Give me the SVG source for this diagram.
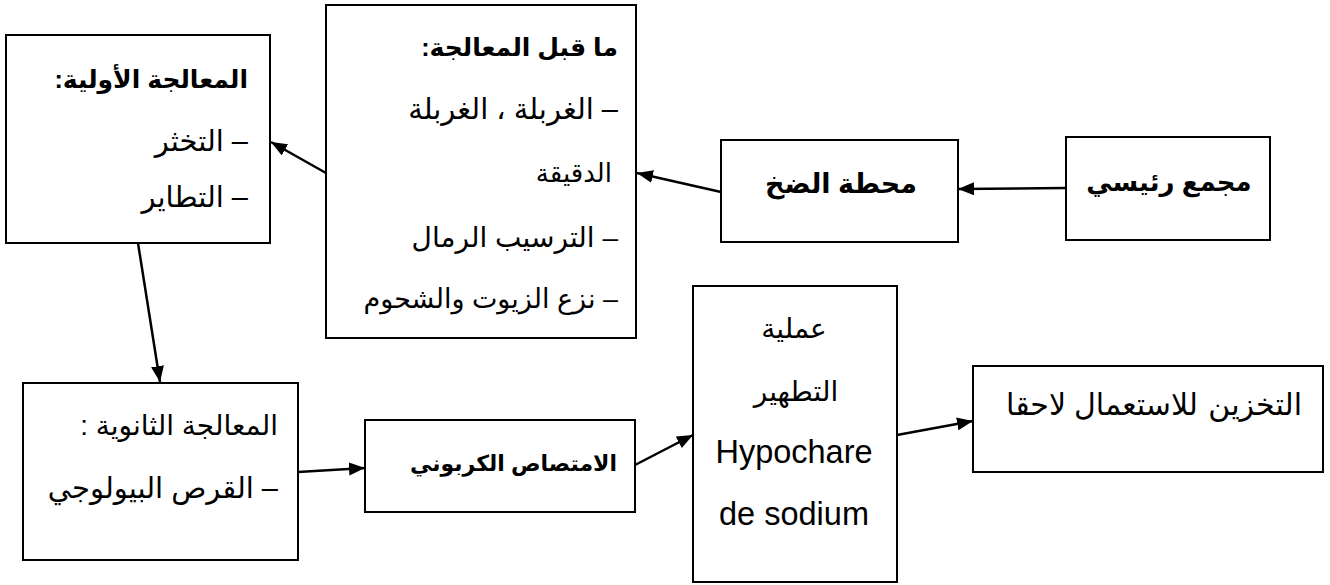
<svg xmlns="http://www.w3.org/2000/svg" width="1330" height="585" viewBox="0 0 1330 585">
<style>
.box{fill:#fff;stroke:#000;stroke-width:2}
.t{font-family:"Liberation Sans","DejaVu Sans",sans-serif;font-size:28px;fill:#000}
.b{font-weight:bold}
.r{direction:rtl;text-anchor:start}
.c{text-anchor:middle}
.con line{stroke:#000;stroke-width:2.5;marker-end:url(#ah)}
</style>
<defs>
<marker id="ah" markerUnits="userSpaceOnUse" markerWidth="18" markerHeight="14" refX="16" refY="6.5" orient="auto">
<path d="M0,0 L16,6.5 L0,13 z" fill="#000"/>
</marker>
</defs>
<rect width="1330" height="585" fill="#fff"/>
<g id="n-primary">
<rect class="box" x="6" y="35" width="264" height="208"/>
<text class="t b r" x="248" y="88" direction="rtl" style="font-size:25px">المعالجة الأولية:</text>
<text class="t r" x="248" y="151" direction="rtl" style="font-size:29px">– التخثر</text>
<text class="t r" x="248" y="207" direction="rtl" style="font-size:29px">– التطاير</text>
</g>
<g id="n-pretreat">
<rect class="box" x="326" y="5" width="310" height="333"/>
<text class="t b r" x="618" y="56" direction="rtl" style="font-size:25px">ما قبل المعالجة:</text>
<text class="t r" x="618" y="119" direction="rtl" style="font-size:29px">– الغربلة ، الغربلة</text>
<text class="t r" x="612" y="182" direction="rtl" style="font-size:26px">الدقيقة</text>
<text class="t r" x="618" y="247" direction="rtl">– الترسيب الرمال</text>
<text class="t r" x="618" y="308" direction="rtl" style="font-size:27px">– نزع الزيوت والشحوم</text>
</g>
<g id="n-pump">
<rect class="box" x="721" y="140" width="237" height="102"/>
<text class="t b c" x="841" y="193" style="font-size:27px">محطة الضخ</text>
</g>
<g id="n-collector">
<rect class="box" x="1066" y="137" width="204" height="103"/>
<text class="t b c" x="1169" y="191" style="font-size:26px">مجمع رئيسي</text>
</g>
<g id="n-secondary">
<rect class="box" x="23" y="383" width="275" height="177"/>
<text class="t r" x="278" y="435" direction="rtl">المعالجة الثانوية :</text>
<text class="t r" x="278" y="498" direction="rtl" style="font-size:29px">– القرص البيولوجي</text>
</g>
<g id="n-carbon">
<rect class="box" x="365" y="420" width="270" height="92"/>
<text class="t b r" x="617" y="471" direction="rtl" style="font-size:22px">الامتصاص الكربوني</text>
</g>
<g id="n-disinfect">
<rect class="box" x="693" y="286" width="204" height="296"/>
<text class="t c" x="794" y="338">عملية</text>
<text class="t c" x="796" y="401">التطهير</text>
<text class="t c" x="794" y="463" style="font-size:32.5px">Hypochare</text>
<text class="t c" x="794" y="525" style="font-size:32.5px">de sodium</text>
</g>
<g id="n-storage">
<rect class="box" x="973" y="366" width="350" height="106"/>
<text class="t r" x="1302" y="415" direction="rtl" style="font-size:30px">التخزين</text>
<text class="t r" x="1198" y="415" direction="rtl" style="font-size:30px">للاستعمال</text>
<text class="t r" x="1066" y="415" direction="rtl" style="font-size:30px">لاحقا</text>
</g>
<g id="connectors" class="con">
<line x1="1066" y1="188" x2="958" y2="189"/>
<line x1="721" y1="192" x2="637" y2="173"/>
<line x1="326" y1="173" x2="271" y2="142"/>
<line x1="138" y1="243" x2="160" y2="382"/>
<line x1="298" y1="472" x2="365" y2="468"/>
<line x1="635" y1="465" x2="693" y2="435"/>
<line x1="897" y1="435" x2="973" y2="421"/>
</g>
</svg>
